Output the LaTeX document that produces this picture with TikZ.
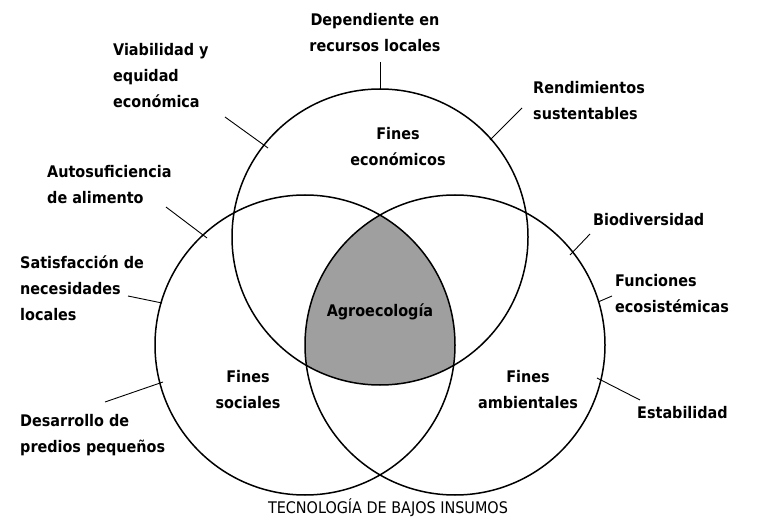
\documentclass[tikz,border=0pt]{standalone}
\usepackage{fontspec}
\setmainfont{DejaVu Sans Condensed}[BoldFont={DejaVu Sans Condensed Bold}]
\begin{document}
\begin{tikzpicture}[x=1pt,y=-1pt,
  lbl/.style={font=\fontsize{16}{26}\selectfont\bfseries,align=left,anchor=west,inner sep=0pt},
  ctr/.style={font=\fontsize{16}{26}\selectfont\bfseries,align=center,inner sep=0pt},
  circ/.style={draw,line width=1.5pt},
  lead/.style={line width=0.9pt}]
\useasboundingbox (0,0) rectangle (760,529);
\begin{scope}
\clip (380,237) circle (148);
\clip (305,345) circle (150);
\fill[gray!75] (455,345) circle (150);
\end{scope}
\draw[circ] (380,237) circle (148);
\draw[circ] (305,345) circle (150);
\draw[circ] (455,345) circle (150);
\node[ctr] (fe) at (398,147) {Fines\\económicos};
\node[ctr] (ag) at (380,312) {Agroecología};
\node[ctr] (fs) at (248,390) {Fines\\sociales};
\node[ctr] (fa) at (528,390) {Fines\\ambientales};
\node[ctr] (dep) at (375,33) {Dependiente en\\recursos locales};
\node[lbl] (via) at (113,76) {Viabilidad y\\equidad\\económica};
\node[lbl] (ren) at (533,101) {Rendimientos\\sustentables};
\node[lbl] (aut) at (47,185) {Autosuficiencia\\de alimento};
\node[lbl] (sat) at (20,288) {Satisfacción de\\necesidades\\locales};
\node[lbl] (des) at (20,435) {Desarrollo de\\predios pequeños};
\node[lbl] (bio) at (593,220) {Biodiversidad};
\node[lbl] (fun) at (615,294) {Funciones\\ecosistémicas};
\node[lbl] (est) at (637,413) {Estabilidad};
\node[ctr,font=\fontsize{16}{26}\selectfont] (tec) at (388,508) {TECNOLOGÍA DE BAJOS INSUMOS};
\coordinate (c1) at (380,89); \coordinate (d1) at (380,62);
\draw[lead] (d1) -- (c1);
\coordinate (c2) at (268,148); \coordinate (d2) at (225,117);
\draw[lead] (d2) -- (c2);
\coordinate (c3) at (490,140); \coordinate (d3) at (522,108);
\draw[lead] (d3) -- (c3);
\coordinate (c4) at (207,238); \coordinate (d4) at (166,207);
\draw[lead] (d4) -- (c4);
\coordinate (c5) at (162,303); \coordinate (d5) at (128,296);
\draw[lead] (d5) -- (c5);
\coordinate (c6) at (163,382); \coordinate (d6) at (105,402);
\draw[lead] (d6) -- (c6);
\coordinate (c7) at (570,255); \coordinate (d7) at (590,234);
\draw[lead] (d7) -- (c7);
\coordinate (c8) at (598,302); \coordinate (d8) at (612,296);
\draw[lead] (d8) -- (c8);
\coordinate (c9) at (597,378); \coordinate (d9) at (640,400);
\draw[lead] (d9) -- (c9);
\end{tikzpicture}
\end{document}
